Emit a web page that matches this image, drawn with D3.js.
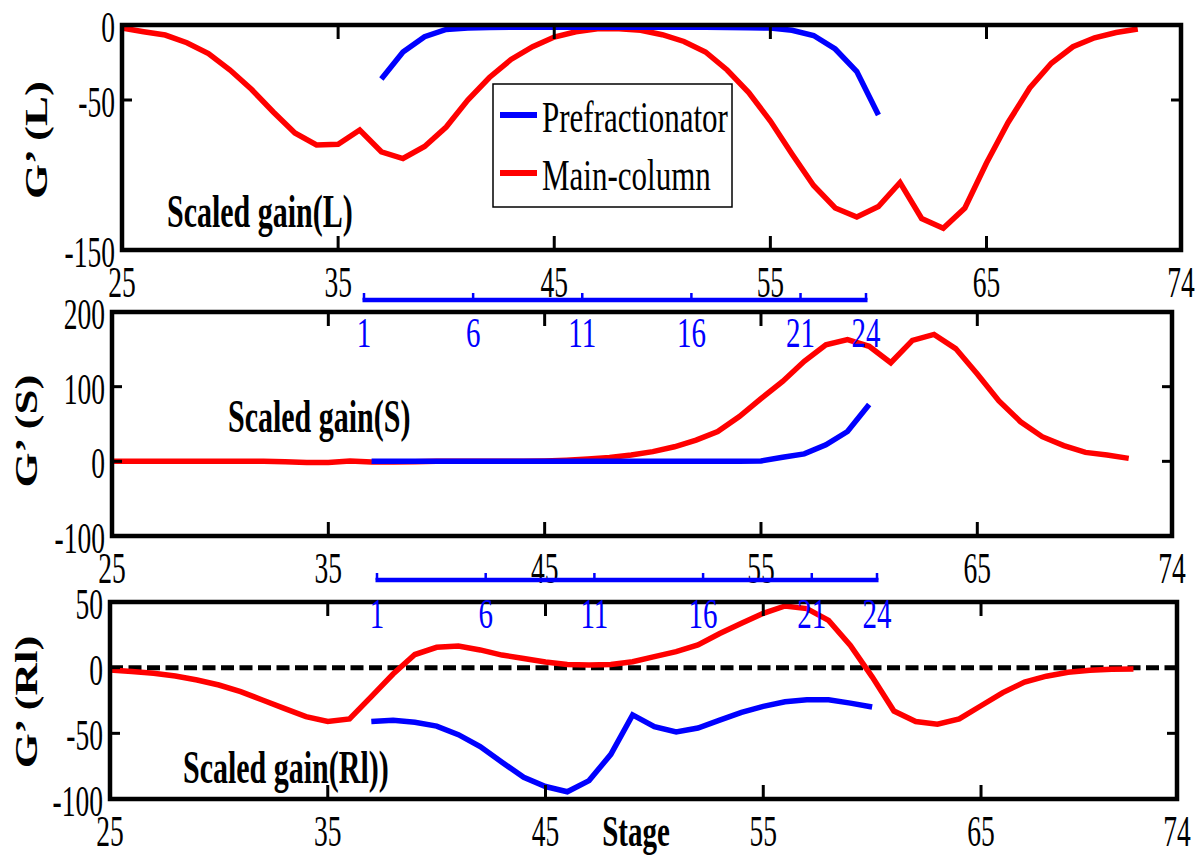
<!DOCTYPE html>
<html>
<head>
<meta charset="utf-8">
<script src="https://cdn.jsdelivr.net/npm/d3@7/dist/d3.min.js"></script>
<style>
  html, body { margin: 0; padding: 0; background: #fff; }
  svg { display: block; }
</style>
</head>
<body>
<svg id="chart" width="1204" height="855"></svg>
<script>
// ---------- data ----------
const mainStages = [25,26,27,28,29,30,31,32,33,34,35,36,37,38,39,40,41,42,43,44,45,46,47,48,49,50,
  51,52,53,54,55,56,57,58,59,60,61,62,63,64,65,66,67,68,69,70,71,72];
const prefracStages = [37,38,39,40,41,42,43,44,45,46,47,48,49,50,51,52,53,54,55,56,57,58,59,60];

const xTickValues = [25,35,45,55,65,74];
const prefracTickLabels = [1,6,11,16,21,24];

// Scaled gain (L)
const mainL = [-2,-4.5,-6.7,-11.8,-19,-30,-43,-58,-72,-80,-79.5,-70,-84.5,-89,-81,-68,-50,-35,-23,-14.5,
  -8,-4.5,-2.5,-2.5,-3.5,-6.5,-11,-18,-30,-45,-64,-86,-107,-122,-128,-121,-105,-129,-135.5,-122,
  -92,-65,-42,-25.5,-14.5,-8.5,-5,-2.7];
const prefracL = [-36,-18,-7.8,-3,-2,-1.6,-1.5,-1.5,-1.5,-1.5,-1.5,-1.5,-1.5,-1.5,-1.5,-1.5,-1.6,-1.8,
  -2,-3.5,-7,-16,-31,-60];

// Scaled gain (S)
const mainS = [0,0,0,0,0,0,0,0,-0.5,-1.5,-1.5,0.5,-1,-1,-0.5,0,0,0,0,0,0.5,1.5,3,5,8.5,13,19.5,28.5,
  40,60,84,107,134,156,163,154,132,162,170,151,117,81,53,33,21,12,8.5,4];
const prefracS = [0,0,0,0,0,0,0,0,0,0,0,0,0,0,0,0,0,0,0.5,5.5,10,22,40,76];

// Scaled gain (Rl)
const mainRl = [-1.8,-3,-4.3,-6.3,-9.4,-13.2,-18.3,-24.6,-31,-37.3,-41,-39,-22,-4.8,10,15.5,16.5,13.5,
  9.6,7,4.3,2.5,2,2.5,4.5,8.4,12.2,17.3,26,33.8,41.4,47,45,36,17,-7,-33,-41,-43,-39,-29,-19,-11,
  -6.5,-3.5,-2,-1.2,-1];
const prefracRl = [-41,-40,-41.5,-44.5,-51,-60,-72,-83.5,-90.5,-94.5,-86,-66,-36,-45,-49,-46,-40,-34,
  -29.5,-26,-24.5,-24.5,-27,-30];

const yTicksL = [-150,-50,0];
const yTicksS = [-100,0,100,200];
const yTicksRl = [-100,-50,0,50];

const seriesNames = ["Prefractionator","Main-column"];
const seriesColors = ["#0000ff","#ff0000"];

// ---------- layout ----------
const panels = [
  { x0:122, x1:1181, y0:25,  y1:250, dom:[-150,0],  ticks:yTicksL,  main:mainL,  pre:prefracL,
    ylabel:"G\u2019 (L)",  ylx:47, yly:140, title:"Scaled gain(L)",   tx:167, ty:227 },
  { x0:112, x1:1172, y0:312, y1:536, dom:[-100,200], ticks:yTicksS, main:mainS, pre:prefracS,
    ylabel:"G\u2019 (S)",  ylx:37, yly:431, title:"Scaled gain(S)",   tx:228, ty:432 },
  { x0:110, x1:1177, y0:602, y1:799, dom:[-100,50], ticks:yTicksRl, main:mainRl, pre:prefracRl,
    ylabel:"G\u2019 (Rl)", ylx:37, yly:702, title:"Scaled gain(Rl))", tx:183, ty:783, zeroLine:true }
];
const secAxes = [ { r0:364, r1:866, y:300, labelY:347 }, { r0:377, r1:877, y:580, labelY:628 } ];

const FONT = "'Liberation Serif','Times New Roman',serif";
const svg = d3.select("#chart");

function stext(g, x, y, str, opt) {
  const t = g.append("text")
    .attr("transform", `translate(${x},${y}) scale(1,${opt.sy||1.5})`)
    .attr("font-family", FONT)
    .attr("font-size", opt.size)
    .attr("font-weight", opt.bold ? "bold" : "normal")
    .attr("text-anchor", opt.anchor || "start")
    .attr("fill", opt.color || "#000")
    .text(str);
  return t;
}

panels.forEach(p => {
  const g = svg.append("g");
  const x = d3.scaleLinear().domain([25,74]).range([p.x0,p.x1]);
  const y = d3.scaleLinear().domain(p.dom).range([p.y1,p.y0]);

  if (p.zeroLine) {
    g.append("line").attr("x1",p.x0).attr("x2",p.x1).attr("y1",y(0)).attr("y2",y(0))
      .attr("stroke","#000").attr("stroke-width",5).attr("stroke-dasharray","13,5.5");
  }

  const line = d3.line().x(d => x(d[0])).y(d => y(d[1]));
  g.append("path").datum(mainStages.map((s,i)=>[s,p.main[i]]))
    .attr("d",line).attr("fill","none").attr("stroke",seriesColors[1]).attr("stroke-width",5.5);
  g.append("path").datum(prefracStages.map((s,i)=>[s,p.pre[i]]))
    .attr("d",line).attr("fill","none").attr("stroke",seriesColors[0]).attr("stroke-width",5.5);

  // ticks (inward)
  xTickValues.forEach(v => {
    g.append("line").attr("x1",x(v)).attr("x2",x(v)).attr("y1",p.y0).attr("y2",p.y0+14)
      .attr("stroke","#000").attr("stroke-width",3);
    g.append("line").attr("x1",x(v)).attr("x2",x(v)).attr("y1",p.y1).attr("y2",p.y1-14)
      .attr("stroke","#000").attr("stroke-width",3);
    stext(g, x(v), p.y1+47, String(v), {size:27.5, sy:1.6, anchor:"middle"});
  });
  p.ticks.forEach(v => {
    g.append("line").attr("x1",p.x0).attr("x2",p.x0+10).attr("y1",y(v)).attr("y2",y(v))
      .attr("stroke","#000").attr("stroke-width",3);
    g.append("line").attr("x1",p.x1).attr("x2",p.x1-10).attr("y1",y(v)).attr("y2",y(v))
      .attr("stroke","#000").attr("stroke-width",3);
    stext(g, p.x0-7, y(v)+17, String(v), {size:27.5, sy:1.6, anchor:"end"});
  });

  // frame
  g.append("rect").attr("x",p.x0).attr("y",p.y0).attr("width",p.x1-p.x0).attr("height",p.y1-p.y0)
    .attr("fill","none").attr("stroke","#000").attr("stroke-width",4.5);

  // y label (rotated, stretched along its length)
  g.append("text")
    .attr("transform", `translate(${p.ylx},${p.yly}) rotate(-90) scale(1.45,1)`)
    .attr("font-family",FONT).attr("font-size",31).attr("font-weight","bold")
    .attr("text-anchor","middle").text(p.ylabel);

  // in-plot annotation
  stext(g, p.tx, p.ty, p.title, {size:30, sy:1.55, bold:true});
});

// secondary (prefractionator stage) axes
secAxes.forEach(a => {
  const s = d3.scaleLinear().domain([1,24]).range([a.r0,a.r1]);
  const g = svg.append("g");
  g.append("line").attr("x1",a.r0-1.5).attr("x2",a.r1+1.5).attr("y1",a.y).attr("y2",a.y)
    .attr("stroke","#0000ff").attr("stroke-width",4.5);
  prefracTickLabels.forEach(v => {
    g.append("line").attr("x1",s(v)).attr("x2",s(v)).attr("y1",a.y).attr("y2",a.y-7)
      .attr("stroke","#0000ff").attr("stroke-width",2.5);
    stext(g, s(v), a.labelY, String(v), {size:29, sy:1.45, anchor:"middle", color:"#0000ff"});
  });
});

// legend
const lg = svg.append("g");
lg.append("rect").attr("x",493).attr("y",84).attr("width",239).attr("height",123)
  .attr("fill","#fff").attr("stroke","#000").attr("stroke-width",1.5);
[0,1].forEach(i => {
  const yy = i === 0 ? 115 : 173;
  lg.append("line").attr("x1",500).attr("x2",537).attr("y1",yy).attr("y2",yy)
    .attr("stroke",seriesColors[i]).attr("stroke-width",6);
  stext(lg, 542, yy + 17, seriesNames[i], {size:31, sy:1.45});
});

// x label
stext(svg, 636, 846, "Stage", {size:29, sy:1.55, bold:true, anchor:"middle"});
</script>
</body>
</html>
